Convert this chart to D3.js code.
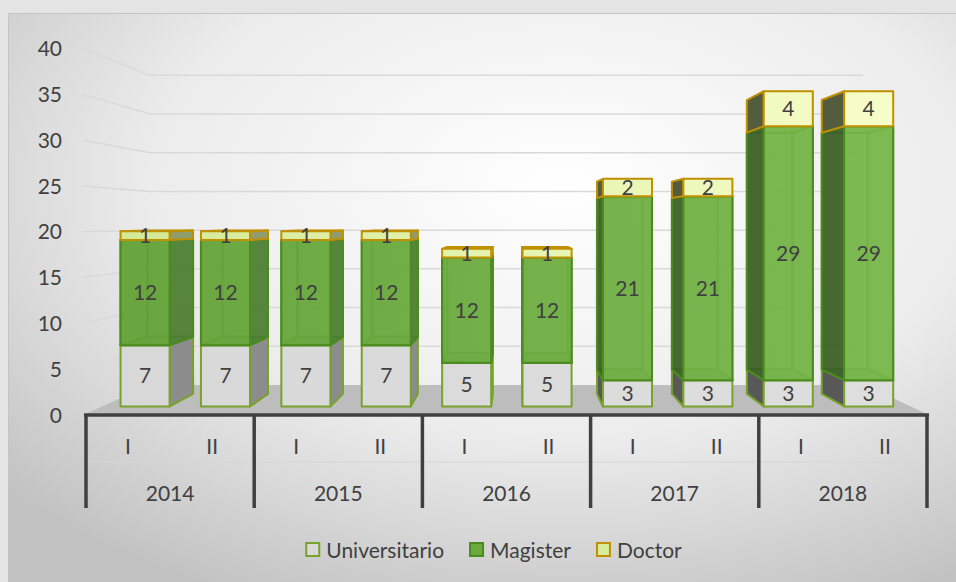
<!DOCTYPE html>
<html>
<head>
<meta charset="utf-8">
<script src="https://cdn.jsdelivr.net/npm/d3@7"></script>
<style>
  html, body { margin: 0; padding: 0; background: #e4e4e4; }
  svg { display: block; }
  text { font-family: Lato, "Open Sans", sans-serif; fill: #404040; }
</style>
</head>
<body>
<svg id="chart" width="956" height="582"></svg>
<script>
// ---- data ----
const years = ["2014", "2015", "2016", "2017", "2018"];
const semesters = ["I", "II", "I", "II", "I", "II", "I", "II", "I", "II"];
const universitario = [7, 7, 7, 7, 5, 5, 3, 3, 3, 3];
const magister = [12, 12, 12, 12, 12, 12, 21, 21, 29, 29];
const doctor = [1, 1, 1, 1, 1, 1, 2, 2, 4, 4];
const seriesNames = ["Universitario", "Magister", "Doctor"];
const yTicks = [0, 5, 10, 15, 20, 25, 30, 35, 40];

const W = 956, H = 582;
const svg = d3.select("#chart");

// ---- perspective setup ----
const vp = [515, 221];          // vanishing point
const sFront = 0.956, sBack = 0.891, sWall = 0.845;
const P = (X, Y, s) => [vp[0] + (X - vp[0]) * s, vp[1] + (Y - vp[1]) * s];

const x = d3.scaleBand().domain(d3.range(semesters.length))
  .range([86, 927]).paddingInner(0.39).paddingOuter(0.195);
const y = d3.scaleLinear().domain([0, 40]).range([415, 48.6]);

// ---- background ----
const defs = svg.append("defs");
const bg = defs.append("radialGradient").attr("id", "bg")
  .attr("cx", 0.58).attr("cy", 0.3).attr("r", 0.78);
bg.append("stop").attr("offset", 0).attr("stop-color", "#ffffff");
bg.append("stop").attr("offset", 0.55).attr("stop-color", "#ececec");
bg.append("stop").attr("offset", 1).attr("stop-color", "#c2c2c2");

function frontGrad(id, c0, c1) {
  const g = defs.append("linearGradient").attr("id", id)
    .attr("gradientUnits", "userSpaceOnUse")
    .attr("x1", 110).attr("x2", 880).attr("y1", 0).attr("y2", 0);
  g.append("stop").attr("offset", 0).attr("stop-color", c0);
  g.append("stop").attr("offset", 1).attr("stop-color", c1);
}
frontGrad("fU", "#d8d8d8", "#dedede");
frontGrad("fM", "#66a53a", "#7dbd50");
frontGrad("fD", "#d3e995", "#f6fdc8");

svg.append("rect").attr("width", W).attr("height", H).attr("fill", "#e4e4e4");
svg.append("rect").attr("x", 8.5).attr("y", 13.5).attr("width", W).attr("height", H)
  .attr("fill", "url(#bg)").attr("stroke", "#c4c4c4");

// ---- walls: gridlines on side wall and back wall ----
const wallL = 83, wallR = 927;
const gridG = svg.append("g");
yTicks.filter(v => v > 0).forEach(v => {
  const a = [wallL, y(v)], b = P(wallL, y(v), sWall), c = P(wallR, y(v), sWall);
  gridG.append("polyline")
    .attr("points", [a, b, c].map(p => p.join(",")).join(" "))
    .attr("fill", "none").attr("stroke", "#d9d9d9").attr("stroke-width", 1.5);
});

// floor
const y0 = y(0);
svg.append("polygon")
  .attr("points", [[wallL, y0], [wallR + 2, y0], P(wallR + 2, y0, sWall), P(wallL, y0, sWall)]
    .map(p => p.join(",")).join(" "))
  .attr("fill", "#bdbdbd");

// y-axis labels
svg.append("g").selectAll("text").data(yTicks).join("text")
  .attr("x", 62).attr("y", d => y(d) + 7.5)
  .attr("text-anchor", "end").attr("font-size", 21)
  .text(d => d);

// ---- bars ----
const table = semesters.map((s, i) => ({
  Universitario: universitario[i], Magister: magister[i], Doctor: doctor[i]
}));
const stacked = d3.stack().keys(seriesNames)(table);

const style = {
  Universitario: { front: "url(#fU)", sideR: "#8c8c8c", sideL: "#585858", back: "#cfcfcf",
                   bottom: "#c8c8c8", top: "#e2e2e2", stroke: "#79a22c", op: 1 },
  Magister:      { front: "url(#fM)", sideR: "#4e7d37", sideL: "#3a5a29", back: "#5f9a37",
                   bottom: "#4f8a2c", top: "#62a236", stroke: "#4c8b1e", op: 0.82 },
  Doctor:        { front: "url(#fD)", sideR: "#8f9c6c", sideL: "#545c3e", back: "#c9dc8c",
                   bottom: "#bccf80", top: "#eaf6b8", stroke: "#bf9000", op: 1 }
};

const barsG = svg.append("g");
const poly = (g, pts, fill, st, op) => g.append("polygon")
  .attr("points", pts.map(p => p.join(",")).join(" "))
  .attr("fill", fill).attr("fill-opacity", op)
  .attr("stroke", st).attr("stroke-width", 2).attr("stroke-linejoin", "round");

semesters.forEach((sem, i) => {
  const X0 = x(i), X1 = x(i) + x.bandwidth();
  const rightVisible = P((X0 + X1) / 2, 0, sFront)[0] < vp[0];
  const g = barsG.append("g");
  seriesNames.forEach((key, k) => {
    const [v0, v1] = stacked[k][i];
    const st = style[key];
    const translucent = st.op < 1;
    const Y0 = y(v0), Y1 = y(v1);
    const FL0 = P(X0, Y0, sFront), FR0 = P(X1, Y0, sFront), FL1 = P(X0, Y1, sFront), FR1 = P(X1, Y1, sFront);
    const BL0 = P(X0, Y0, sBack), BR0 = P(X1, Y0, sBack), BL1 = P(X0, Y1, sBack), BR1 = P(X1, Y1, sBack);
    // faces behind, visible through translucent fills
    if (translucent) {
      poly(g, [BL0, BR0, BR1, BL1], st.back, st.stroke, st.op);
      poly(g, rightVisible ? [FL0, BL0, BL1, FL1] : [FR0, BR0, BR1, FR1], st.back, st.stroke, st.op);
    }
    // bottom / top caps (a segment resting on another shares its face with the one below)
    if (translucent || (v0 === 0 && Y0 < vp[1])) poly(g, [FL0, FR0, BR0, BL0], st.bottom, st.stroke, st.op);
    if (translucent || Y1 > vp[1]) poly(g, [FL1, FR1, BR1, BL1], st.top, st.stroke, st.op);
    // visible side face
    if (rightVisible) poly(g, [FR0, BR0, BR1, FR1], st.sideR, st.stroke, st.op);
    else poly(g, [FL0, BL0, BL1, FL1], st.sideL, st.stroke, st.op);
    // front face
    poly(g, [FL0, FR0, FR1, FL1], st.front, st.stroke, st.op);
  });
  // value labels
  seriesNames.forEach((key, k) => {
    const [v0, v1] = stacked[k][i];
    const cx = P((X0 + X1) / 2, 0, sFront)[0];
    const cy = (P(0, y(v0), sFront)[1] + P(0, y(v1), sFront)[1]) / 2;
    g.append("text").attr("x", cx).attr("y", cy + 7.5)
      .attr("text-anchor", "middle").attr("font-size", 21)
      .text(v1 - v0);
  });
});

// ---- category axis ----
const axisG = svg.append("g");
axisG.append("line").attr("x1", 86).attr("x2", 928).attr("y1", 462).attr("y2", 462)
  .attr("stroke", "#d6d6d6").attr("stroke-width", 1);
axisG.append("line").attr("x1", 84).attr("x2", 929).attr("y1", y0).attr("y2", y0)
  .attr("stroke", "#404040").attr("stroke-width", 3.5);
const groupW = x.step() * 2;
d3.range(years.length + 1).forEach(j => {
  const gx = 86 + j * groupW;
  axisG.append("line").attr("x1", gx).attr("x2", gx).attr("y1", y0).attr("y2", 508)
    .attr("stroke", "#404040").attr("stroke-width", 3.5);
});
axisG.selectAll("text.sem").data(semesters).join("text").attr("class", "sem")
  .attr("x", (d, i) => x(i) + x.bandwidth() / 2).attr("y", 453.5)
  .attr("text-anchor", "middle").attr("font-size", 21).text(d => d);
axisG.selectAll("text.yr").data(years).join("text").attr("class", "yr")
  .attr("x", (d, j) => 86 + (j + 0.5) * groupW).attr("y", 501)
  .attr("text-anchor", "middle").attr("font-size", 21).text(d => d);

// ---- legend ----
const legendColors = {
  Universitario: ["#d9d9d9", "#79a22c"],
  Magister: ["#6aab3e", "#4c8b1e"],
  Doctor: ["#d9ec9c", "#bf9000"]
};
const legend = svg.append("g");
let lx = 0;
seriesNames.forEach(name => {
  const it = legend.append("g").attr("transform", `translate(${lx},0)`);
  it.append("rect").attr("x", 1).attr("y", 543).attr("width", 13).attr("height", 13)
    .attr("fill", legendColors[name][0]).attr("stroke", legendColors[name][1]).attr("stroke-width", 2);
  const t = it.append("text").attr("x", 21).attr("y", 557.5).attr("font-size", 21).text(name);
  lx += 21 + t.node().getComputedTextLength() + 25;
});
const totalW = lx - 25;
legend.attr("transform", `translate(${493.5 - totalW / 2},0)`);
</script>
</body>
</html>
